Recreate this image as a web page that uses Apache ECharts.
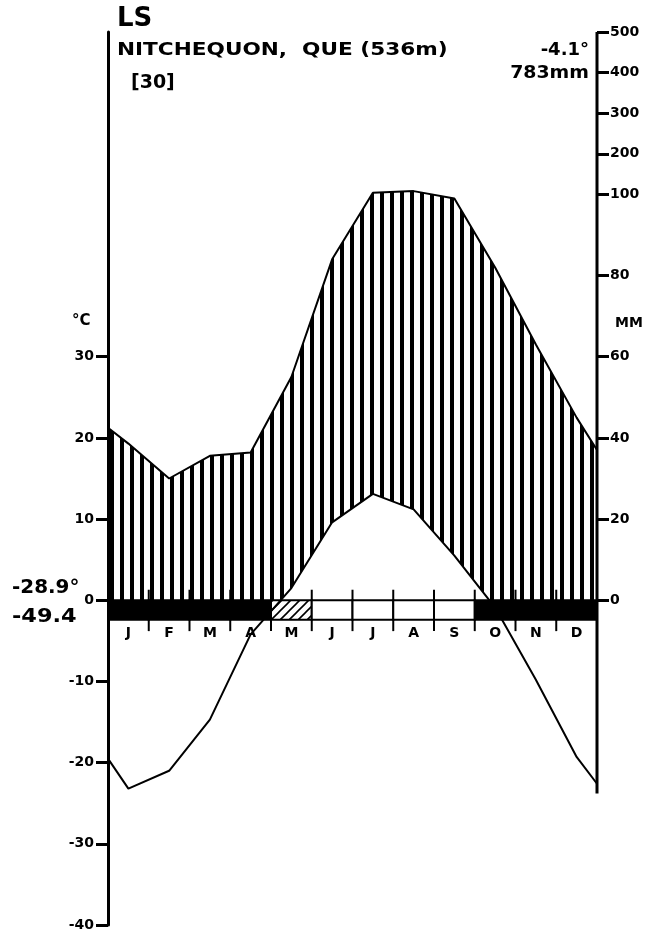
<!DOCTYPE html>
<html><head><meta charset="utf-8">
<script src="https://cdn.jsdelivr.net/npm/echarts@6/dist/echarts.min.js"></script>
<style>html,body{margin:0;padding:0;background:#fff}#c{width:660px;height:932px}</style>
</head><body><div id="c"></div>
<script>
// ---- data ----
const months = ['J','F','M','A','M','J','J','A','S','O','N','D'];
const tempC = [-23.2, -21.0, -14.7, -4.2, 1.5, 9.6, 13.1, 11.2, 5.5, -0.9, -9.8, -19.3];
const precipMm = [38.6, 30.0, 35.6, 36.4, 55, 84, 104, 108, 99, 82, 63, 45];
const tempEdges = [-19.5, -22.6];     // curve ends at left / right axis
const precipEdges = [42.5, 37.0];     // curve ends at left / right axis
const frostCode = [2, 2, 2, 2, 1, 0, 0, 0, 0, 2, 2, 2]; // 2 frost, 1 probable frost, 0 none
const tempTicks = [-40, -30, -20, -10, 0, 10, 20, 30];
const mmTicks = [0, 20, 40, 60, 80, 100, 200, 300, 400, 500];

const FONT = '"DejaVu Sans", Verdana, sans-serif';
const BAR_BOTTOM = -2.4;

function mmToScale(mm) { return mm <= 100 ? mm / 2 : 50 + (mm - 100) / 20; }
function scaleToMm(v) { return v <= 50 ? Math.round(v * 2) : Math.round(100 + (v - 50) * 20); }

const xs = [0].concat(months.map((m, i) => i + 0.5), [12]);
const tempPts = xs.map((x, i) => [x, i === 0 ? tempEdges[0] : (i === xs.length - 1 ? tempEdges[1] : tempC[i - 1])]);
const precPts = xs.map((x, i) => [x, mmToScale(i === 0 ? precipEdges[0] : (i === xs.length - 1 ? precipEdges[1] : precipMm[i - 1]))]);

function lowerBoundary() {
  const out = [];
  for (let i = 0; i < tempPts.length; i++) {
    const p = tempPts[i];
    out.push([p[0], Math.max(p[1], 0)]);
    if (i < tempPts.length - 1) {
      const q = tempPts[i + 1];
      if ((p[1] < 0 && q[1] > 0) || (p[1] > 0 && q[1] < 0)) {
        const t = p[1] / (p[1] - q[1]);
        out.push([p[0] + t * (q[0] - p[0]), 0]);
      }
    }
  }
  return out;
}

function vPattern() {
  const c = document.createElement('canvas'); c.width = 10; c.height = 10;
  const g = c.getContext('2d'); g.fillStyle = '#000'; g.fillRect(0, 0, 4, 10);
  return c;
}
function dPattern() {
  const c = document.createElement('canvas'); c.width = 9; c.height = 9;
  const g = c.getContext('2d'); g.strokeStyle = '#000'; g.lineWidth = 1.6;
  g.beginPath();
  g.moveTo(-1, 10); g.lineTo(10, -1);
  g.moveTo(-10, 10); g.lineTo(1, -1);
  g.moveTo(8, 10); g.lineTo(19, -1);
  g.stroke();
  return c;
}
const VPAT = vPattern(), DPAT = dPattern();

const chart = echarts.init(document.getElementById('c'), null, {renderer: 'canvas'});

const txt = (t, x, y, size, align, sx) => ({
  type: 'text', x: x, y: y, z: 100, scaleX: sx || 1,
  style: {text: t, fill: '#000', fontSize: size, fontWeight: 'bold', fontFamily: FONT,
          align: align || 'left', verticalAlign: 'middle'}
});

const option = {
  animation: false,
  grid: {left: 108, right: 63, top: 32, bottom: 5},
  xAxis: {type: 'value', min: 0, max: 12, show: false},
  yAxis: [
    {type: 'value', min: -40, max: 70, position: 'left', splitLine: {show: false},
     axisLine: {show: true, lineStyle: {color: '#000', width: 3}},
     axisTick: {show: true, customValues: tempTicks, length: 12, lineStyle: {color: '#000', width: 3}},
     axisLabel: {customValues: tempTicks, color: '#000', fontWeight: 'bold', fontSize: 14, fontFamily: FONT, margin: 14}},
    {type: 'value', min: -40, max: 70, position: 'right', splitLine: {show: false},
     axisLine: {show: false},
     axisTick: {show: true, customValues: mmTicks.map(mmToScale), length: 12, lineStyle: {color: '#000', width: 3}},
     axisLabel: {customValues: mmTicks.map(mmToScale), color: '#000', fontWeight: 'bold', fontSize: 14, fontFamily: FONT, margin: 13,
                 formatter: v => String(scaleToMm(v))}}
  ],
  graphic: [
    txt('LS', 117, 19, 26),
    txt('NITCHEQUON,  QUE (536m)', 117, 50, 18, 'left', 1.2),
    txt('[30]', 131, 83, 19),
    txt('-4.1°', 589, 50, 18, 'right'),
    txt('783mm', 589, 73, 18, 'right', 1.05),
    txt('°C', 72, 321, 15),
    txt('MM', 615, 323, 14),
    txt('-28.9°', 12, 588, 19, 'left', 1.05),
    txt('-49.4', 12, 617, 19, 'left', 1.18)
  ],
  series: [
    { // humid period hatching
      type: 'custom', z: 1, silent: true, data: [[0, 0]],
      renderItem: function (params, api) {
        const poly = precPts.concat(lowerBoundary().reverse()).map(p => api.coord(p));
        return {type: 'polygon', shape: {points: poly}, style: {fill: {image: VPAT, repeat: 'repeat'}, stroke: null}};
      }
    },
    { // frost bar, month ticks and labels
      type: 'custom', z: 2, silent: true,
      data: frostCode.map((f, i) => [i, f]),
      renderItem: function (params, api) {
        const i = api.value(0), f = api.value(1);
        const a = api.coord([i, 0]), b = api.coord([i + 1, BAR_BOTTOM]);
        const children = [{
          type: 'rect', shape: {x: a[0], y: a[1], width: b[0] - a[0], height: b[1] - a[1]},
          style: {fill: f === 2 ? '#000' : (f === 1 ? {image: DPAT, repeat: 'repeat'} : '#fff'), stroke: '#000', lineWidth: 2}
        }];
        if (i > 0) {
          const t1 = api.coord([i, 1.3]), t2 = api.coord([i, BAR_BOTTOM - 1.4]);
          children.push({type: 'line', shape: {x1: a[0], y1: t1[1], x2: a[0], y2: a[1]}, style: {stroke: '#000', lineWidth: 2}});
          children.push({type: 'line', shape: {x1: a[0], y1: b[1], x2: a[0], y2: t2[1]}, style: {stroke: '#000', lineWidth: 2}});
        }
        const c = api.coord([i + 0.5, -4.1]);
        children.push({type: 'text', x: c[0], y: c[1], style: {text: months[i], fill: '#000', fontSize: 14, fontWeight: 'bold', fontFamily: FONT, align: 'center', verticalAlign: 'middle'}});
        return {type: 'group', children: children};
      }
    },
    { // right axis line
      type: 'custom', z: 3, silent: true, data: [[12, 70, -23.8]],
      renderItem: function (params, api) {
        const p = api.coord([12, api.value(1)]), q = api.coord([12, api.value(2)]);
        return {type: 'line', shape: {x1: p[0], y1: p[1], x2: q[0], y2: q[1]}, style: {stroke: '#000', lineWidth: 3}};
      }
    },
    {type: 'line', z: 4, data: precPts, symbol: 'none', silent: true, lineStyle: {color: '#000', width: 2}},
    {type: 'line', z: 4, data: tempPts, symbol: 'none', silent: true, lineStyle: {color: '#000', width: 2}}
  ]
};
chart.setOption(option);
</script>
</body></html>
